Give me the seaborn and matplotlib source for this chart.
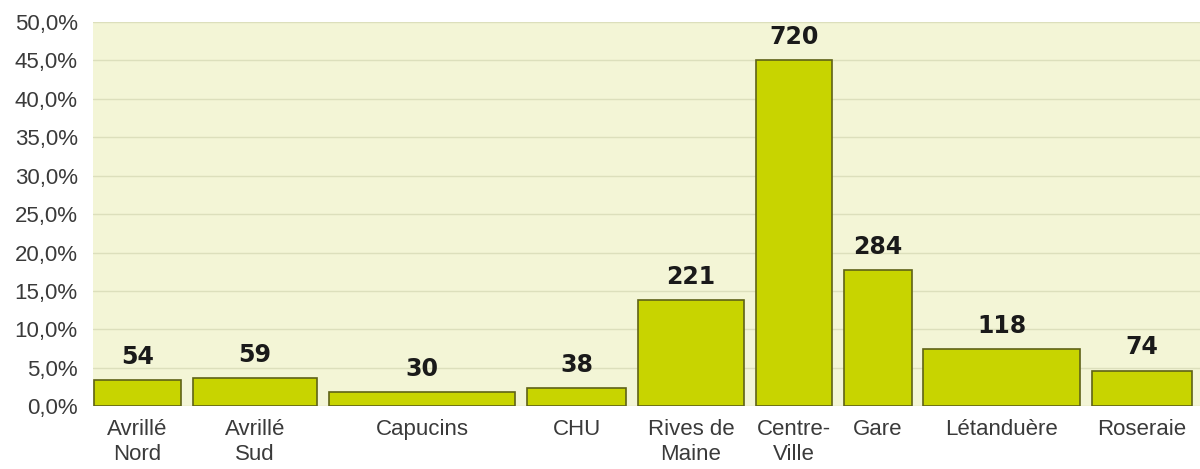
import matplotlib
matplotlib.use("Agg")
import matplotlib.pyplot as plt
from matplotlib.ticker import FuncFormatter, MultipleLocator
import numpy as np
import pandas as pd
import seaborn as sns

# ---- data ----
quartiers = ["Avrillé\nNord", "Avrillé\nSud", "Capucins", "CHU", "Rives de\nMaine",
             "Centre-\nVille", "Gare", "Létanduère", "Roseraie"]
effectifs = [54, 59, 30, 38, 221, 720, 284, 118, 74]
# relative bar widths as drawn in the reference (variable-width bars)
largeurs = [87, 124, 187, 99, 106, 76, 68, 157, 100]

total = sum(effectifs)
pourcent = [100.0 * e / total for e in effectifs]

df = pd.DataFrame({"quartier": quartiers, "pct": pourcent})

sns.set_theme(style="white")
plt.rcParams["font.family"] = ["Liberation Sans", "DejaVu Sans"]

fig = plt.figure(figsize=(12, 4.69), dpi=100)
ax = fig.add_axes([0.0775, 0.134, 0.9225, 0.819])

bar_color = "#c8d400"
edge_color = "#5f6218"

sns.barplot(data=df, x="quartier", y="pct", color=bar_color, saturation=1,
            edgecolor=edge_color, linewidth=1.2, ax=ax, zorder=3)

# variable widths: place bars side by side with a constant gap
gap = 12
lefts = np.concatenate([[0], np.cumsum(np.array(largeurs) + gap)[:-1]])
centers = lefts + np.array(largeurs) / 2.0
for patch, left, w in zip(ax.patches, lefts, largeurs):
    patch.set_x(left)
    patch.set_width(w)

ax.set_xlim(-1, lefts[-1] + largeurs[-1] + 8)
ax.set_ylim(0, 50)
ax.set_xticks(centers)
ax.set_xticklabels(quartiers, fontsize=16, color="#3a3a3a", linespacing=1.25)
ax.yaxis.set_major_locator(MultipleLocator(5))
ax.yaxis.set_major_formatter(FuncFormatter(lambda v, p: f"{v:.1f}%".replace(".", ",")))
ax.tick_params(axis="y", labelsize=16, labelcolor="#3a3a3a", length=0, pad=11)
ax.tick_params(axis="x", length=0, pad=9)
ax.set_xlabel("")
ax.set_ylabel("")

ax.set_facecolor("#f3f5d6")
ax.grid(axis="y", color="#dcdfbc", linewidth=1, zorder=0)
ax.set_axisbelow(True)
for s in ax.spines.values():
    s.set_visible(False)

for c, pct, n in zip(centers, pourcent, effectifs):
    ax.annotate(f"{n}", (c, pct), xytext=(0, 8), textcoords="offset points",
                ha="center", va="bottom", fontsize=17, fontweight="bold",
                family="DejaVu Sans", color="#1a1a1a")

fig.savefig("out.png", dpi=100)
